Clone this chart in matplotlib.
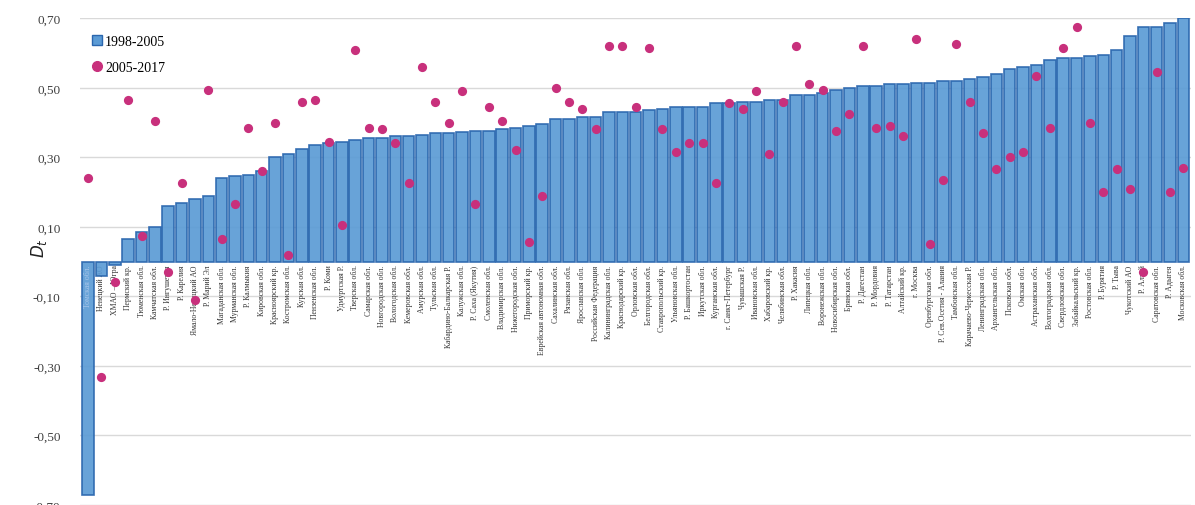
import matplotlib
matplotlib.use("Agg")
import matplotlib.pyplot as plt
from matplotlib.lines import Line2D
from matplotlib.ticker import FuncFormatter

regions = [
    "Томская обл.", "Ненецкий АО", "ХМАО – Югра", "Пермский кр.", "Тюменская обл.",
    "Камчатская обл.", "Р. Ингушетия", "Р. Карелия", "Ямало-Ненецкий АО", "Р. Марий Эл",
    "Магаданская обл.", "Мурманская обл.", "Р. Калмыкия", "Кировская обл.", "Красноярский кр.",
    "Костромская обл.", "Курская обл.", "Пензенская обл.", "Р. Коми", "Удмуртская Р.",
    "Тверская обл.", "Самарская обл.", "Новгородская обл.", "Вологодская обл.", "Кемеровская обл.",
    "Амурская обл.", "Тульская обл.", "Кабардино-Балкарская Р.", "Калужская обл.", "Р. Саха (Якутия)",
    "Смоленская обл.", "Владимирская обл.", "Нижегородская обл.", "Приморский кр.", "Еврейская автономная обл.",
    "Сахалинская обл.", "Рязанская обл.", "Ярославская обл.", "Российская Федерация", "Калининградская обл.",
    "Краснодарский кр.", "Орловская обл.", "Белгородская обл.", "Ставропольский кр.", "Ульяновская обл.",
    "Р. Башкортостан", "Иркутская обл.", "Курганская обл.", "г. Санкт-Петербург", "Чувашская Р.",
    "Ивановская обл.", "Хабаровский кр.", "Челябинская обл.", "Р. Хакасия", "Липецкая обл.",
    "Воронежская обл.", "Новосибирская обл.", "Брянская обл.", "Р. Дагестан", "Р. Мордовия",
    "Р. Татарстан", "Алтайский кр.", "г. Москва", "Оренбургская обл.", "Р. Сев.Осетия - Алания",
    "Тамбовская обл.", "Карачаево-Черкесская Р.", "Ленинградская обл.", "Архангельская обл.", "Псковская обл.",
    "Омская обл.", "Астраханская обл.", "Волгоградская обл.", "Свердловская обл.", "Забайкальский кр.",
    "Ростовская обл.", "Р. Бурятия", "Р. Тыва", "Чукотский АО", "Р. Алтай",
    "Саратовская обл.", "Р. Адыгея", "Московская обл.",
]

d_1998_2005 = [
    -0.67, -0.04, -0.01, 0.065, 0.085,
    0.10, 0.16, 0.17, 0.18, 0.19,
    0.24, 0.245, 0.25, 0.26, 0.30,
    0.31, 0.325, 0.335, 0.34, 0.345,
    0.35, 0.355, 0.355, 0.36, 0.36,
    0.365, 0.37, 0.37, 0.372, 0.375,
    0.375, 0.38, 0.385, 0.39, 0.395,
    0.41, 0.41, 0.415, 0.415, 0.43,
    0.43, 0.43, 0.435, 0.44, 0.445,
    0.445, 0.445, 0.455, 0.455, 0.46,
    0.46, 0.465, 0.465, 0.48, 0.48,
    0.485, 0.495, 0.50, 0.505, 0.505,
    0.51, 0.51, 0.515, 0.515, 0.52,
    0.52, 0.525, 0.53, 0.54, 0.555,
    0.56, 0.565, 0.58, 0.585, 0.585,
    0.59, 0.595, 0.61, 0.65, 0.675,
    0.675, 0.685, 0.70,
]

d_2005_2017 = [
    0.24, -0.333, -0.06, 0.465, 0.075,
    0.405, -0.03, 0.225, -0.11, 0.495,
    0.065, 0.165, 0.385, 0.26, 0.40,
    0.02, 0.46, 0.465, 0.345, 0.105,
    0.61, 0.385, 0.38, 0.34, 0.225,
    0.56, 0.46, 0.40, 0.49, 0.165,
    0.445, 0.405, 0.32, 0.055, 0.19,
    0.50, 0.46, 0.44, 0.38, 0.62,
    0.62, 0.445, 0.615, 0.38, 0.315,
    0.34, 0.34, 0.225, 0.455, 0.44,
    0.49, 0.31, 0.46, 0.62, 0.51,
    0.495, 0.375, 0.425, 0.62, 0.385,
    0.39, 0.36, 0.64, 0.05, 0.235,
    0.625, 0.46, 0.37, 0.265, 0.30,
    0.315, 0.535, 0.385, 0.615, 0.675,
    0.40, 0.20, 0.265, 0.21, -0.03,
    0.545, 0.20, 0.27,
]

yticks = [-0.70, -0.50, -0.30, -0.10, 0.10, 0.30, 0.50, 0.70]
series_names = ["1998-2005", "2005-2017"]

bar_color = "#5B9BD5"
edge_color = "#2A66AE"
dot_color = "#C8307C"
serif = "Liberation Serif"

fig = plt.figure(figsize=(11.95, 5.06), dpi=100)
ax = fig.add_axes([0.067, 0.0, 0.93, 0.962])

x = list(range(len(regions)))
ax.bar(x, d_1998_2005, width=0.86, color=bar_color, edgecolor=edge_color,
       linewidth=1.2, alpha=0.92, zorder=3)
ax.scatter(x, d_2005_2017, s=44, color=dot_color, zorder=4, linewidths=0)

for xi, name in zip(x, regions):
    inside = d_1998_2005[xi] < -0.3
    ax.text(xi, -0.008, name, rotation=90, ha="center", va="top",
            fontsize=5.6, family=serif,
            color="#A8C6EA" if inside else "#333333",
            zorder=5 if inside else 2.5)

ax.set_xlim(-0.6, len(regions) - 0.4)
ax.set_ylim(-0.70, 0.70)
ax.set_yticks(yticks)
ax.yaxis.set_major_formatter(FuncFormatter(lambda v, p: f"{v:.2f}".replace(".", ",")))
ax.tick_params(axis="y", length=0, labelsize=9.5, pad=14, labelcolor="#404040")
for lab in ax.get_yticklabels():
    lab.set_family(serif)
ax.set_xticks([])
ax.grid(axis="y", color="#D9D9D9", linewidth=1.0, zorder=0)
ax.set_axisbelow(True)
for s in ax.spines.values():
    s.set_visible(False)

ax.set_ylabel(r"$D_t$", fontsize=12, labelpad=4, color="#222222")
ax.yaxis.set_label_coords(-0.028, 0.53)

handles = [
    Line2D([], [], marker="s", linestyle="none", markersize=7,
           markerfacecolor=bar_color, markeredgecolor=edge_color, markeredgewidth=1.0),
    Line2D([], [], marker="o", linestyle="none", markersize=7,
           markerfacecolor=dot_color, markeredgecolor=dot_color),
]
ax.legend(handles, series_names, loc="upper left", bbox_to_anchor=(0.0, 0.985),
          frameon=False, prop={"family": serif, "size": 10},
          handletextpad=0.1, labelspacing=0.9, borderaxespad=0.3, handlelength=1.0)

fig.savefig("out.png", dpi=100)
